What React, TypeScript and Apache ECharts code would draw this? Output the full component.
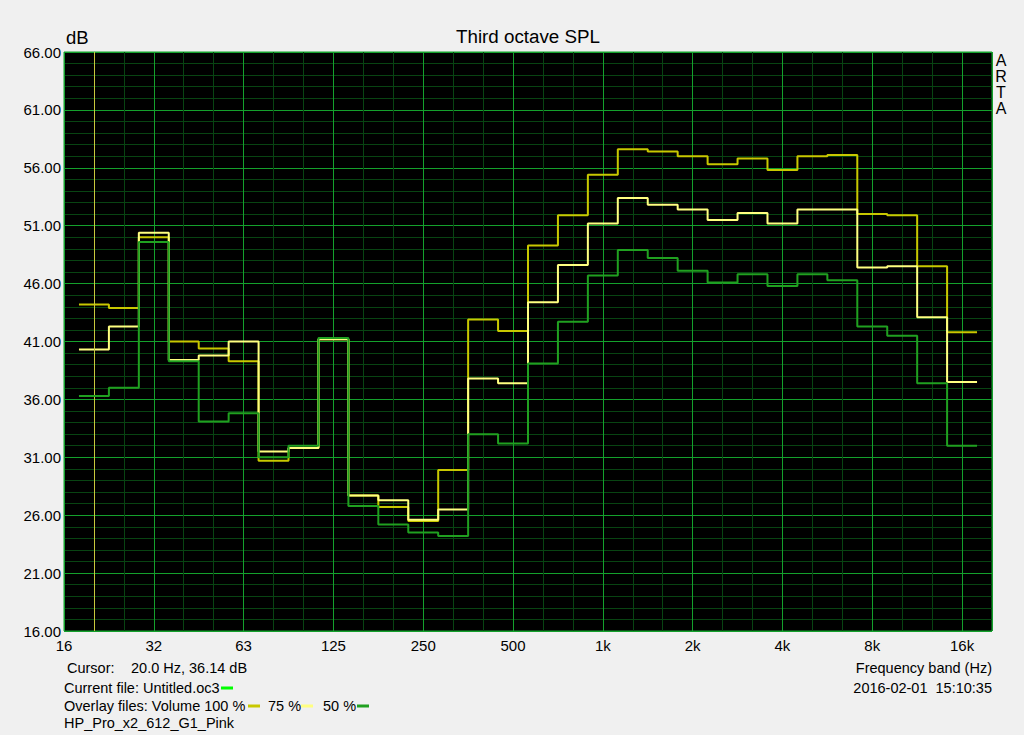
import React, { useEffect, useRef } from 'react';
import * as echarts from 'echarts';

// third-octave band positions (16 Hz = 0, one unit per third octave): 20 Hz ... 16 kHz
const bandIndex = [1, 2, 3, 4, 5, 6, 7, 8, 9, 10, 11, 12, 13, 14, 15, 16, 17, 18, 19, 20, 21, 22, 23, 24, 25, 26, 27, 28, 29, 30];
const bandNames = ['20', '25', '31.5', '40', '50', '63', '80', '100', '125', '160', '200', '250', '315', '400', '500', '630', '800', '1k', '1.25k', '1.6k', '2k', '2.5k', '3.15k', '4k', '5k', '6.3k', '8k', '10k', '12.5k', '16k'];
const xTickLabels = ['16', '32', '63', '125', '250', '500', '1k', '2k', '4k', '8k', '16k'];

const vol100 = [44.2, 43.9, 50.0, 41.0, 40.4, 39.3, 30.7, 31.8, 41.2, 27.7, 26.7, 25.5, 29.9, 42.9, 41.9, 49.3, 51.9, 55.4, 57.6, 57.4, 57.0, 56.3, 56.8, 55.8, 57.0, 57.1, 52.0, 51.9, 47.5, 41.8];
const vol75 = [40.3, 42.3, 50.4, 39.4, 39.8, 41.0, 31.5, 31.8, 41.2, 27.7, 27.3, 25.6, 26.5, 37.8, 37.4, 44.4, 47.6, 51.2, 53.4, 52.8, 52.4, 51.5, 52.1, 51.2, 52.4, 52.4, 47.4, 47.5, 43.1, 37.5];
const vol50 = [36.3, 37.0, 49.6, 39.3, 34.1, 34.8, 31.0, 32.0, 41.3, 26.8, 25.2, 24.5, 24.2, 33.0, 32.2, 39.1, 42.7, 46.7, 48.9, 48.2, 47.1, 46.1, 46.8, 45.8, 46.8, 46.3, 42.3, 41.5, 37.4, 32.0];

const cursorBand = 1; // 20 Hz

const FONT = "'Liberation Sans', Arial, sans-serif";

function toSteps(values: number[]) {
  const pts: number[][] = [];
  values.forEach((v, k) => {
    const c = bandIndex[k];
    pts.push([c - 0.5, v], [c + 0.5, v]);
  });
  return pts;
}

function txt(text: string, x: number, y: number, size: number, align = 'left', color = '#000', extra: any = {}) {
  return {
    type: 'text',
    x,
    y,
    silent: true,
    style: {
      text,
      fill: color,
      font: `${size}px ${FONT}`,
      textAlign: align,
      align,
      textVerticalAlign: 'middle',
      verticalAlign: 'middle',
      ...extra,
    },
  };
}

function dash(x: number, y: number, color: string) {
  return { type: 'rect', silent: true, shape: { x, y: y - 1.5, width: 12, height: 3 }, style: { fill: color } };
}

export default function App() {
  const ref = useRef<HTMLDivElement>(null);
  useEffect(() => {
    if (!ref.current) return;
    const chart = echarts.init(ref.current, undefined, { renderer: 'svg' });
    const major = '#14a02c';
    const minor = '#084412';
    const series: any[] = [
      { name: 'Volume 100 %', color: '#c8c800', data: toSteps(vol100) },
      { name: '75 %', color: '#ffff80', data: toSteps(vol75) },
      { name: '50 %', color: '#20a020', data: toSteps(vol50) },
    ].map((s, i) => ({
      type: 'line',
      name: s.name,
      data: s.data,
      symbol: 'none',
      showSymbol: false,
      lineStyle: { color: s.color, width: 2 },
      itemStyle: { color: s.color },
      z: 3 + i,
      ...(i === 0
        ? {
            markLine: {
              silent: true,
              symbol: 'none',
              label: { show: false },
              lineStyle: { color: '#c8c83c', width: 1, type: 'solid' },
              data: [{ xAxis: bandIndex[cursorBand - 1] }],
            },
          }
        : {}),
    }));

    chart.setOption({
      animation: false,
      backgroundColor: '#f0f0f0',
      grid: {
        left: 64,
        top: 52,
        right: 32,
        bottom: 104,
        show: true,
        backgroundColor: '#000000',
        borderColor: '#14a02c',
        borderWidth: 1,
      },
      xAxis: {
        type: 'value',
        min: 0,
        max: 31,
        interval: 3,
        axisLine: { show: false },
        axisTick: { show: false },
        axisLabel: {
          color: '#000',
          fontSize: 15,
          fontFamily: FONT,
          margin: 7,
          showMaxLabel: false,
          formatter: (v: number) => (Math.abs(v % 3) < 1e-6 && xTickLabels[v / 3] !== undefined ? xTickLabels[v / 3] : ''),
        },
        splitLine: { show: true, lineStyle: { color: major, width: 1 } },
        minorTick: { show: false, splitNumber: 3 },
        minorSplitLine: { show: true, lineStyle: { color: minor, width: 1 } },
      },
      yAxis: {
        type: 'value',
        min: 16,
        max: 66,
        interval: 5,
        axisLine: { show: false },
        axisTick: { show: false },
        axisLabel: {
          color: '#000',
          fontSize: 15,
          fontFamily: FONT,
          margin: 3,
          formatter: (v: number) => v.toFixed(2),
        },
        splitLine: { show: true, lineStyle: { color: major, width: 1 } },
        minorTick: { show: false, splitNumber: 5 },
        minorSplitLine: { show: true, lineStyle: { color: minor, width: 1 } },
      },
      series,
      graphic: [
        txt('Third octave SPL', 528, 36, 18.8, 'center'),
        txt('dB', 66, 37, 18.5, 'left'),
        txt('A\nR\nT\nA', 1001, 84, 16, 'center', '#000', { lineHeight: 16 }),
        txt('Cursor:', 67, 668, 14.5),
        txt('20.0 Hz, 36.14 dB', 131, 668, 14.5),
        txt('Current file: Untitled.oc3', 64, 688, 14.5),
        dash(221, 688, '#00ff00'),
        txt('Overlay files: Volume 100 %', 64, 706, 14.5),
        dash(248, 706, '#c8c800'),
        txt('75 %', 268, 706, 14.5),
        dash(301, 706, '#ffff80'),
        txt('50 %', 323, 706, 14.5),
        dash(357, 706, '#20a020'),
        txt('HP_Pro_x2_612_G1_Pink', 64, 723, 14.5),
        txt('Frequency band (Hz)', 992, 668, 14.5, 'right'),
        txt('2016-02-01  15:10:35', 992, 688, 14.5, 'right'),
      ],
    });
    return () => chart.dispose();
  }, []);
  return <div ref={ref} style={{ position: 'absolute', left: 0, top: 0, width: 1024, height: 735 }} />;
}
